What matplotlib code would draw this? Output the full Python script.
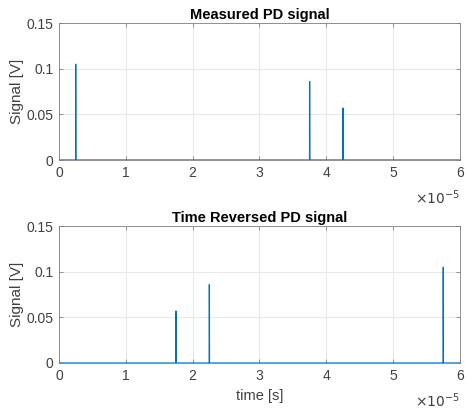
import numpy as np
import matplotlib.pyplot as plt

plt.rcParams['font.family'] = ['Liberation Sans', 'DejaVu Sans']

# PD pulses (time in units of 1e-5 s, amplitude in V)
pulse_times = [0.25, 3.75, 4.25]
pulse_amps = [0.105, 0.086, 0.057]
t_end = 6.0  # 1e-5 s

n = 6001
t = np.linspace(0, t_end, n)
measured = np.zeros(n)
for tp, a in zip(pulse_times, pulse_amps):
    measured[int(round(tp / t_end * (n - 1)))] = a
reversed_sig = measured[::-1]

titles = ['Measured PD signal', 'Time Reversed PD signal']
signals = [measured, reversed_sig]

txt = '#404040'

fig = plt.figure(figsize=(4.66, 4.11), dpi=100)
axes = [fig.add_axes([0.1266, 0.6107, 0.8605, 0.333]),
        fig.add_axes([0.1266, 0.1168, 0.8605, 0.333])]

for ax, sig, title in zip(axes, signals, titles):
    ax.plot(t, sig, color='#0072BD', lw=0.9)
    ax.set_xlim(0, 6)
    ax.set_ylim(0, 0.15)
    ax.set_xticks(range(7))
    ax.set_yticks([0, 0.05, 0.1, 0.15])
    ax.set_yticklabels(['0', '0.05', '0.1', '0.15'])
    ax.grid(True, color='#e8e8e8', lw=0.7)
    ax.set_axisbelow(True)
    for s in ax.spines.values():
        s.set_color('#808080')
        s.set_linewidth(0.6)
    ax.tick_params(direction='in', length=3, width=0.6, top=True, right=True,
                   labelsize=10, colors='#808080', labelcolor=txt, pad=4)
    ax.set_title(title, fontsize=10.5, fontweight='bold', pad=3)
    ax.set_ylabel('Signal [V]', fontsize=11, color=txt, labelpad=2)
    ax.text(1.0, -0.21, r'$\times10^{-5}$', transform=ax.transAxes,
            ha='right', va='top', fontsize=10, color=txt)

axes[1].set_xlabel('time [s]', fontsize=10.5, color=txt, labelpad=5)

fig.savefig('out.png', dpi=100)
